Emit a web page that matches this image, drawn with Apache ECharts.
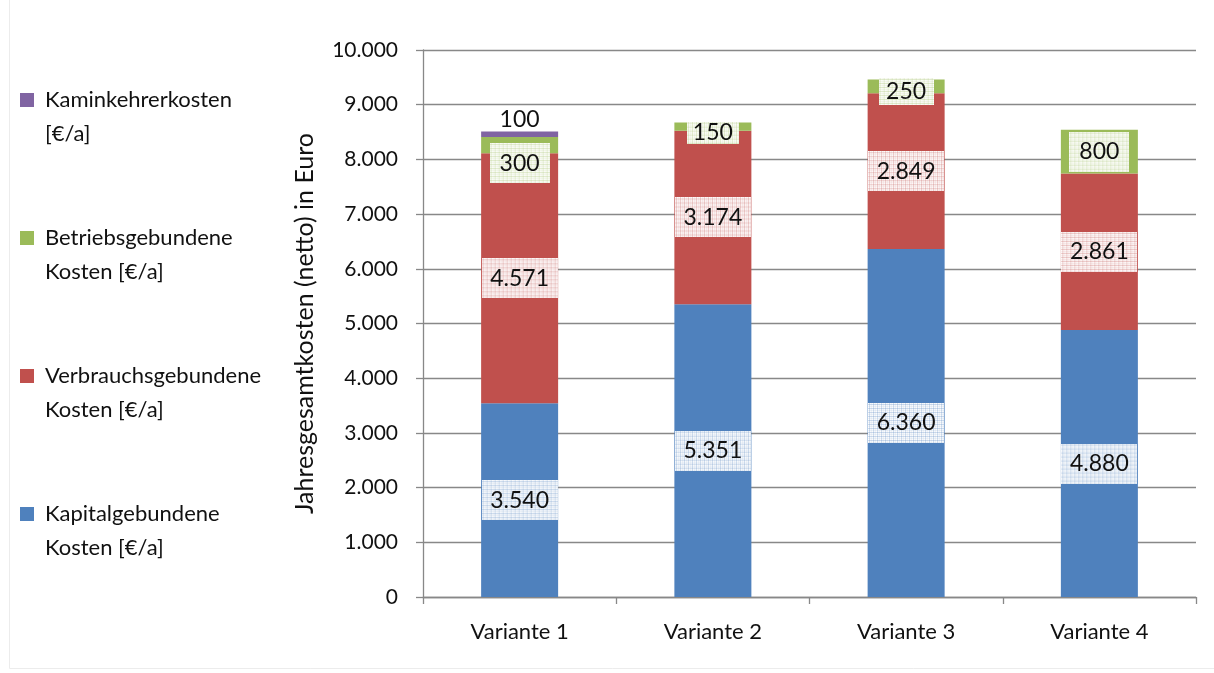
<!DOCTYPE html>
<html>
<head>
<meta charset="utf-8">
<script src="https://cdn.jsdelivr.net/npm/echarts@6/dist/echarts.min.js"></script>
<style>
  html, body { margin: 0; padding: 0; background: #fff; }
  #chart { width: 1214px; height: 673px; }
</style>
</head>
<body>
<div id="chart"></div>
<script>
// Annual total costs per variant, stacked by cost type
const categories = ['Variante 1', 'Variante 2', 'Variante 3', 'Variante 4'];
const kapital = [3540, 5351, 6360, 4880];
const verbrauch = [4571, 3174, 2849, 2861];
const betrieb = [300, 150, 250, 800];
const kamin = [100, 0, 0, 0];

const seriesNames = [
  'Kapitalgebundene Kosten [€/a]',
  'Verbrauchsgebundene Kosten [€/a]',
  'Betriebsgebundene Kosten [€/a]',
  'Kaminkehrerkosten [€/a]'
];
const legendLines = {
  'Kaminkehrerkosten [€/a]': ['Kaminkehrerkosten', '[€/a]'],
  'Betriebsgebundene Kosten [€/a]': ['Betriebsgebundene', 'Kosten [€/a]'],
  'Verbrauchsgebundene Kosten [€/a]': ['Verbrauchsgebundene', 'Kosten [€/a]'],
  'Kapitalgebundene Kosten [€/a]': ['Kapitalgebundene', 'Kosten [€/a]']
};
const yTicks = { min: 0, max: 10000, interval: 1000 };

const colors = ['#4F81BD', '#C0504D', '#9BBB59', '#8064A2'];
const FONT = 'Lato, "Noto Sans", sans-serif';

function fmt(v) {
  return String(v).replace(/\B(?=(\d{3})+(?!\d))/g, '.');
}

// Hatched white label background tinted with the series colour
function hatch(color, w, h) {
  const c = document.createElement('canvas');
  c.width = w; c.height = h;
  const g = c.getContext('2d');
  g.fillStyle = '#fff';
  g.fillRect(0, 0, w, h);
  g.globalAlpha = 0.28;
  g.fillStyle = color;
  for (let x = 1; x < w; x += 4) g.fillRect(x, 0, 1, h);
  for (let y = 1; y < h; y += 4) g.fillRect(0, y, w, 1);
  g.globalAlpha = 0.1;
  for (let x = 3; x < w; x += 4) g.fillRect(x, 0, 1, h);
  for (let y = 3; y < h; y += 4) g.fillRect(0, y, w, 1);
  return c;
}

function boxLabel(color, text, w, h, dy) {
  return {
    show: true,
    position: 'inside',
    offset: [0, dy || 0],
    width: w,
    height: h,
    lineHeight: h,
    align: 'center',
    verticalAlign: 'middle',
    padding: 0,
    color: '#111',
    fontFamily: FONT,
    fontSize: 23,
    backgroundColor: { image: hatch(color, w, h) },
    formatter: text
  };
}

function widthFor(v) { return fmt(v).length > 3 ? 76 : 60; }

const labelTweaks = {
  // Betriebsgebundene: small segments get compact or shifted boxes
  betrieb: [
    { w: 60, h: 40, dy: 18 },
    { w: 52, h: 22, dy: 6 },
    { w: 55, h: 27, dy: 5 },
    { w: 60, h: 40, dy: 0 }
  ]
};

function mkData(values, color, tweaks) {
  return values.map((v, i) => {
    const t = tweaks ? tweaks[i] : { w: widthFor(v), h: 40, dy: 0 };
    return { value: v, label: boxLabel(color, fmt(v), t.w, t.h, t.dy) };
  });
}

const barWidth = 77;
const series = [
  {
    name: seriesNames[0], type: 'bar', stack: 'total', barWidth: barWidth,
    itemStyle: { color: colors[0] },
    data: mkData(kapital, colors[0])
  },
  {
    name: seriesNames[1], type: 'bar', stack: 'total', barWidth: barWidth,
    itemStyle: { color: colors[1] },
    data: mkData(verbrauch, colors[1])
  },
  {
    name: seriesNames[2], type: 'bar', stack: 'total', barWidth: barWidth,
    itemStyle: { color: colors[2] },
    data: mkData(betrieb, colors[2], labelTweaks.betrieb)
  },
  {
    name: seriesNames[3], type: 'bar', stack: 'total', barWidth: barWidth,
    itemStyle: { color: colors[3] },
    label: {
      show: true, position: 'top', distance: 0,
      color: '#111', fontFamily: FONT, fontSize: 23,
      formatter: p => (p.value ? fmt(p.value) : '')
    },
    data: kamin
  }
];

const chart = echarts.init(document.getElementById('chart'), null, { renderer: 'canvas' });
chart.setOption({
  animation: false,
  backgroundColor: '#fff',
  textStyle: { fontFamily: FONT },
  graphic: [{
    type: 'rect', silent: true, z: -10,
    shape: { x: 9.5, y: -2, width: 1210, height: 670.5 },
    style: { fill: 'none', stroke: '#ececec', lineWidth: 1 }
  }],
  legend: {
    orient: 'vertical',
    left: 20,
    top: 49,
    padding: 0,
    itemGap: 36,
    itemWidth: 14,
    itemHeight: 14,
    icon: 'rect',
    data: [seriesNames[3], seriesNames[2], seriesNames[1], seriesNames[0]],
    formatter: name => ' \n' + legendLines[name].join('\n'),
    textStyle: { fontFamily: FONT, fontSize: 22, lineHeight: 34, color: '#111', padding: [0, 0, 0, 6] }
  },
  grid: { left: 423, right: 18, top: 50, bottom: 76, containLabel: false },
  xAxis: {
    type: 'category',
    data: categories,
    axisLine: { lineStyle: { color: '#888', width: 1.3 } },
    axisTick: { show: true, length: 7, lineStyle: { color: '#888', width: 1.3 } },
    axisLabel: { color: '#111', fontFamily: FONT, fontSize: 22, margin: 24 }
  },
  yAxis: {
    type: 'value',
    min: yTicks.min, max: yTicks.max, interval: yTicks.interval,
    name: 'Jahresgesamtkosten (netto) in Euro',
    nameLocation: 'middle',
    nameGap: 106,
    nameTextStyle: { color: '#111', fontFamily: FONT, fontSize: 25 },
    axisLine: { show: true, lineStyle: { color: '#888', width: 1.3 } },
    axisTick: { show: true, length: 7, lineStyle: { color: '#888', width: 1.3 } },
    splitLine: { lineStyle: { color: '#888', width: 1.3 } },
    axisLabel: { color: '#111', fontFamily: FONT, fontSize: 21, margin: 25, formatter: v => fmt(v) }
  },
  series: series
});
</script>
</body>
</html>
